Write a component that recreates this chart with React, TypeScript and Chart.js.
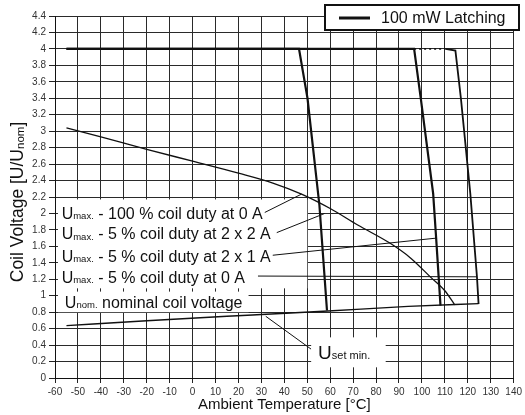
import React, { useEffect, useRef } from "react";
import { Chart, registerables } from "chart.js";

Chart.register(...registerables);

// Axes
const X_MIN = -60;
const X_MAX = 140;
const X_STEP = 10;
const Y_MIN = 0;
const Y_MAX = 4.4;
const Y_STEP = 0.2;

const X_TITLE = "Ambient Temperature [°C]";
const Y_TITLE_MAIN = "Coil Voltage [U/U";
const Y_TITLE_SUB = "nom";
const Y_TITLE_END = "]";
const LEGEND_TEXT = "100 mW Latching";

// Umax - 100 % coil duty at 0 A (descending curve)
const desc_T = [-55, -40, -20, 0, 20, 35, 47.5, 60, 72, 86, 95, 104, 110, 114.3];
const desc_V = [3.04, 2.93, 2.78, 2.635, 2.49, 2.37, 2.235, 2.06, 1.86, 1.64, 1.46, 1.22, 1.06, 0.89];

// Umax - 5 % coil duty at 2 x 2 A
const left_T = [-55, 46.4, 50.1, 55.3, 58.6];
const left_V = [4, 4, 3.4, 2.1, 0.82];

// Umax - 5 % coil duty at 2 x 1 A
const mid_T = [-55, 96.6, 99.5, 104.9, 106.2, 108.1];
const mid_V = [4, 4, 3.4, 2.24, 1.7, 0.88];

// Umax - 5 % coil duty at 0 A
const right_T = [96.6, 110.3, 114.6, 117, 121.1, 124, 124.7];
const right_V = [4, 4, 3.98, 3.4, 2.24, 1.23, 0.9];

// Unom / Uset min (lower line)
const low_T = [-55, -20, 15, 30, 59, 94, 124.7];
const low_V = [0.637, 0.695, 0.75, 0.772, 0.814, 0.87, 0.904];

// Annotation labels
const label_sub = ["max.", "max.", "max.", "max.", "nom."];
const label_text = [
  " - 100 % coil duty at 0 A",
  " - 5 % coil duty at 2 x 2 A",
  " - 5 % coil duty at 2 x 1 A",
  " - 5 % coil duty at 0 A",
  " nominal coil voltage",
];
const label_x = [-57.1, -57.1, -57.1, -57.1, -55.7];
const label_y = [2.0, 1.755, 1.48, 1.227, 0.923];
const leader_tx = [47.5, 57.6, 106.2, 124, null];
const leader_ty = [2.235, 2.0, 1.7, 1.23, null];
const leader_gap = [2, 6, 2, 13, 0];

const uset_sub = "set min.";
const uset_x = 54.7;
const uset_y = 0.315;
const uset_tx = 31.9;
const uset_ty = 0.75;

// White background boxes in data units
const box_x0 = [-58.7, -58.7, 51.7];
const box_y0 = [2.17, 1.05, 0.494];
const box_x1 = [50, 24.4, 84.2];
const box_y1 = [1.09, 0.8, 0.13];

const FONT = "'Liberation Sans', Arial, Helvetica, sans-serif";

const pts = (t: number[], v: number[]) => t.map((x, i) => ({ x, y: v[i] }));

const overlayPlugin = {
  id: "overlay",
  beforeDatasetsDraw(chart: any) {
    const { ctx, scales } = chart;
    const xs = scales.x;
    const ys = scales.y;
    ctx.save();
    ctx.fillStyle = "#ffffff";
    for (let i = 0; i < box_x0.length; i++) {
      const x0 = xs.getPixelForValue(box_x0[i]);
      const x1 = xs.getPixelForValue(box_x1[i]);
      const y0 = ys.getPixelForValue(box_y0[i]);
      const y1 = ys.getPixelForValue(box_y1[i]);
      ctx.fillRect(x0, y0, x1 - x0, y1 - y0);
    }
    ctx.restore();
  },
  afterDatasetsDraw(chart: any) {
    const { ctx, scales } = chart;
    const xs = scales.x;
    const ys = scales.y;
    ctx.save();
    ctx.fillStyle = "#111";
    ctx.strokeStyle = "#111";
    ctx.textBaseline = "alphabetic";
    ctx.textAlign = "left";

    for (let i = 0; i < label_text.length; i++) {
      const px = xs.getPixelForValue(label_x[i]);
      const cy = ys.getPixelForValue(label_y[i]);
      const base = cy + 5.5;
      let x = px;
      ctx.font = `16px ${FONT}`;
      ctx.fillText("U", x, base);
      x += ctx.measureText("U").width;
      ctx.font = `9.5px ${FONT}`;
      ctx.fillText(label_sub[i], x, base + 0.5);
      x += ctx.measureText(label_sub[i]).width;
      ctx.font = `16px ${FONT}`;
      ctx.fillText(label_text[i], x, base);
      x += ctx.measureText(label_text[i]).width;
      const tx = leader_tx[i];
      const ty = leader_ty[i];
      if (tx !== null && ty !== null) {
        ctx.lineWidth = 1;
        ctx.beginPath();
        ctx.moveTo(x + leader_gap[i], cy - 1);
        ctx.lineTo(xs.getPixelForValue(tx), ys.getPixelForValue(ty as number));
        ctx.stroke();
      }
    }

    {
      const px = xs.getPixelForValue(uset_x);
      const cy = ys.getPixelForValue(uset_y);
      const base = cy + 6.5;
      ctx.font = `19px ${FONT}`;
      ctx.fillText("U", px, base);
      const w = ctx.measureText("U").width;
      ctx.font = `11px ${FONT}`;
      ctx.fillText(uset_sub, px + w, base);
      ctx.lineWidth = 1;
      ctx.beginPath();
      ctx.moveTo(px - 7, cy - 3);
      ctx.lineTo(xs.getPixelForValue(uset_tx), ys.getPixelForValue(uset_ty));
      ctx.stroke();
    }
    ctx.restore();
  },
  afterDraw(chart: any) {
    const { ctx, chartArea } = chart;
    ctx.save();
    ctx.fillStyle = "#ffffff";
    ctx.fillRect(325, 5, 194, 25);
    ctx.strokeStyle = "#111";
    ctx.lineWidth = 2;
    ctx.strokeRect(325, 5, 194, 25);
    ctx.lineWidth = 3;
    ctx.beginPath();
    ctx.moveTo(339, 18);
    ctx.lineTo(370, 18);
    ctx.stroke();
    ctx.fillStyle = "#111";
    ctx.font = `16px ${FONT}`;
    ctx.textBaseline = "middle";
    ctx.textAlign = "left";
    ctx.fillText(LEGEND_TEXT, 381, 18.5);

    ctx.font = `15px ${FONT}`;
    ctx.textAlign = "center";
    ctx.textBaseline = "alphabetic";
    ctx.fillText(X_TITLE, (chartArea.left + chartArea.right) / 2, 409);

    ctx.translate(17, 202);
    ctx.rotate(-Math.PI / 2);
    ctx.textAlign = "left";
    ctx.font = `17.5px ${FONT}`;
    const w1 = ctx.measureText(Y_TITLE_MAIN).width;
    const w3 = ctx.measureText(Y_TITLE_END).width;
    ctx.font = `11.5px ${FONT}`;
    const w2 = ctx.measureText(Y_TITLE_SUB).width;
    const total = w1 + w2 + w3;
    let x = -total / 2;
    ctx.font = `17.5px ${FONT}`;
    ctx.fillText(Y_TITLE_MAIN, x, 6);
    x += w1;
    ctx.font = `11.5px ${FONT}`;
    ctx.fillText(Y_TITLE_SUB, x, 7);
    x += w2;
    ctx.font = `17.5px ${FONT}`;
    ctx.fillText(Y_TITLE_END, x, 6);
    ctx.restore();
  },
};

export default function App() {
  const ref = useRef<HTMLCanvasElement | null>(null);
  useEffect(() => {
    if (!ref.current) return;
    const lineBase = {
      borderColor: "#111",
      pointRadius: 0,
      fill: false,
      tension: 0,
    };
    const chart = new Chart(ref.current, {
      type: "line",
      data: {
        datasets: [
          { ...lineBase, label: "desc", data: pts(desc_T, desc_V), borderWidth: 1.3, cubicInterpolationMode: "monotone" },
          { ...lineBase, label: "low", data: pts(low_T, low_V), borderWidth: 1.4, cubicInterpolationMode: "monotone" },
          { ...lineBase, label: "left", data: pts(left_T, left_V), borderWidth: 2.2 },
          { ...lineBase, label: "mid", data: pts(mid_T, mid_V), borderWidth: 2.2 },
          {
            ...lineBase,
            label: "right",
            data: pts(right_T, right_V),
            borderWidth: 1.8,
            segment: {
              borderDash: (c: any) => (c.p0DataIndex === 0 ? [2, 3] : undefined),
            },
          },
        ] as any,
      },
      options: {
        responsive: true,
        maintainAspectRatio: false,
        animation: false,
        layout: { padding: { top: 16, right: 8, left: 0, bottom: 0 } },
        plugins: { legend: { display: false }, tooltip: { enabled: false }, title: { display: false } },
        scales: {
          x: {
            type: "linear",
            min: X_MIN,
            max: X_MAX,
            afterFit: (s: any) => {
              s.height = 37;
            },
            ticks: {
              stepSize: X_STEP,
              color: "#333",
              font: { family: FONT, size: 10 },
              padding: 3,
              maxRotation: 0,
              autoSkip: false,
              callback: (v: any) => String(Math.round(Number(v))),
            },
            grid: { color: "#2a2a2a", lineWidth: 1, tickLength: 5, tickColor: "#222" },
            border: { color: "#111", width: 1 },
          },
          y: {
            type: "linear",
            min: Y_MIN,
            max: Y_MAX,
            afterFit: (s: any) => {
              s.width = 55;
            },
            ticks: {
              stepSize: Y_STEP,
              color: "#333",
              font: { family: FONT, size: 10 },
              padding: 3,
              autoSkip: false,
              callback: (v: any) => String(Number(Number(v).toFixed(1))),
            },
            grid: { color: "#2a2a2a", lineWidth: 1, tickLength: 6, tickColor: "#222" },
            border: { color: "#111", width: 1 },
          },
        },
      } as any,
      plugins: [overlayPlugin],
    });
    return () => chart.destroy();
  }, []);
  return (
    <div style={{ position: "fixed", left: 0, top: 0, width: 525, height: 415, background: "#fff" }}>
      <canvas ref={ref} />
    </div>
  );
}
